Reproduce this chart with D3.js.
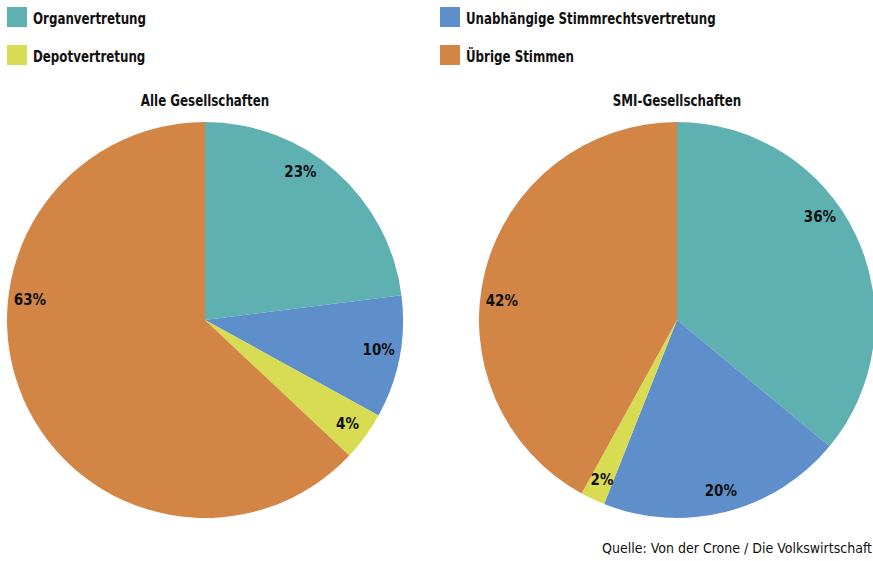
<!DOCTYPE html>
<html>
<head>
<meta charset="utf-8">
<script src="https://cdn.jsdelivr.net/npm/d3@7"></script>
<style>
  body { margin: 0; background: #fff; overflow: hidden; }
  svg { display: block; font-family: "DejaVu Sans Condensed", "DejaVu Sans", sans-serif; font-stretch: condensed; }
</style>
</head>
<body>
<script>
// categories and values (percent)
var categories = ["Organvertretung", "Unabhängige Stimmrechtsvertretung", "Depotvertretung", "Übrige Stimmen"];
var colors = ["#5fb0b1", "#5f8fcb", "#d8dc52", "#d38546"];
var chartTitles = ["Alle Gesellschaften", "SMI-Gesellschaften"];
var allValues = [23, 10, 4, 63];
var smiValues = [36, 20, 2, 42];
var source = "Quelle: Von der Crone / Die Volkswirtschaft";

var width = 873, height = 561;

var svg = d3.select("body").append("svg")
    .attr("width", width)
    .attr("height", height);

var color = d3.scaleOrdinal().domain(categories).range(colors);

// legend, two columns
var legendOrder = [0, 2, 1, 3];
var legend = svg.selectAll(".legend")
    .data(legendOrder)
    .enter().append("g")
    .attr("class", "legend")
    .attr("transform", function(d, i) {
        var col = Math.floor(i / 2), row = i % 2;
        return "translate(" + (7 + col * 433) + "," + (7 + row * 38) + ")";
    });

legend.append("rect")
    .attr("width", 20)
    .attr("height", 20)
    .style("fill", function(d) { return color(categories[d]); });

// narrow the bold text a bit, the original uses a condensed face
legend.append("text")
    .attr("transform", "translate(26,16.5) scale(0.85,1)")
    .style("font-size", "15.5px")
    .style("font-weight", "bold")
    .style("fill", "#111")
    .text(function(d) { return categories[d]; });

// pies
var radius = 198;
var arc = d3.arc().outerRadius(radius).innerRadius(0);
var labelArc = d3.arc().outerRadius(radius * 0.89).innerRadius(radius * 0.89);
var pie = d3.pie().sort(null).value(function(d) { return d.value; });

// label nudges (degrees) so labels sit where the original put them
var pies = [
    { title: chartTitles[0], values: allValues, cx: 205, shift: [-8.6, -1, 0, 30] },
    { title: chartTitles[1], values: smiValues, cx: 677, shift: [-10.6, 0, 0, -8] }
];

pies.forEach(function(p) {
    var data = categories.map(function(c, i) { return { name: c, value: p.values[i], shift: p.shift[i] }; });

    svg.append("text")
        .attr("transform", "translate(" + p.cx + ",106) scale(0.88,1)")
        .attr("text-anchor", "middle")
        .style("font-size", "15px")
        .style("font-weight", "bold")
        .style("fill", "#111")
        .text(p.title);

    var g = svg.append("g")
        .attr("transform", "translate(" + p.cx + ",320)");

    var slices = g.selectAll(".arc")
        .data(pie(data))
        .enter().append("g")
        .attr("class", "arc");

    slices.append("path")
        .attr("d", arc)
        .style("fill", function(d) { return color(d.data.name); });

    slices.append("text")
        .attr("transform", function(d) {
            var a = (d.startAngle + d.endAngle) / 2 + d.data.shift * Math.PI / 180;
            var c = labelArc.centroid({ startAngle: a, endAngle: a });
            return "translate(" + c + ")";
        })
        .attr("dy", ".35em")
        .attr("text-anchor", "middle")
        .style("font-size", "15px")
        .style("font-weight", "bold")
        .style("fill", "#111")
        .text(function(d) { return d.data.value + "%"; });
});

// source
svg.append("text")
    .attr("x", 872)
    .attr("y", 553)
    .attr("text-anchor", "end")
    .style("font-size", "14px")
    .style("fill", "#111")
    .text(source);
</script>
</body>
</html>
